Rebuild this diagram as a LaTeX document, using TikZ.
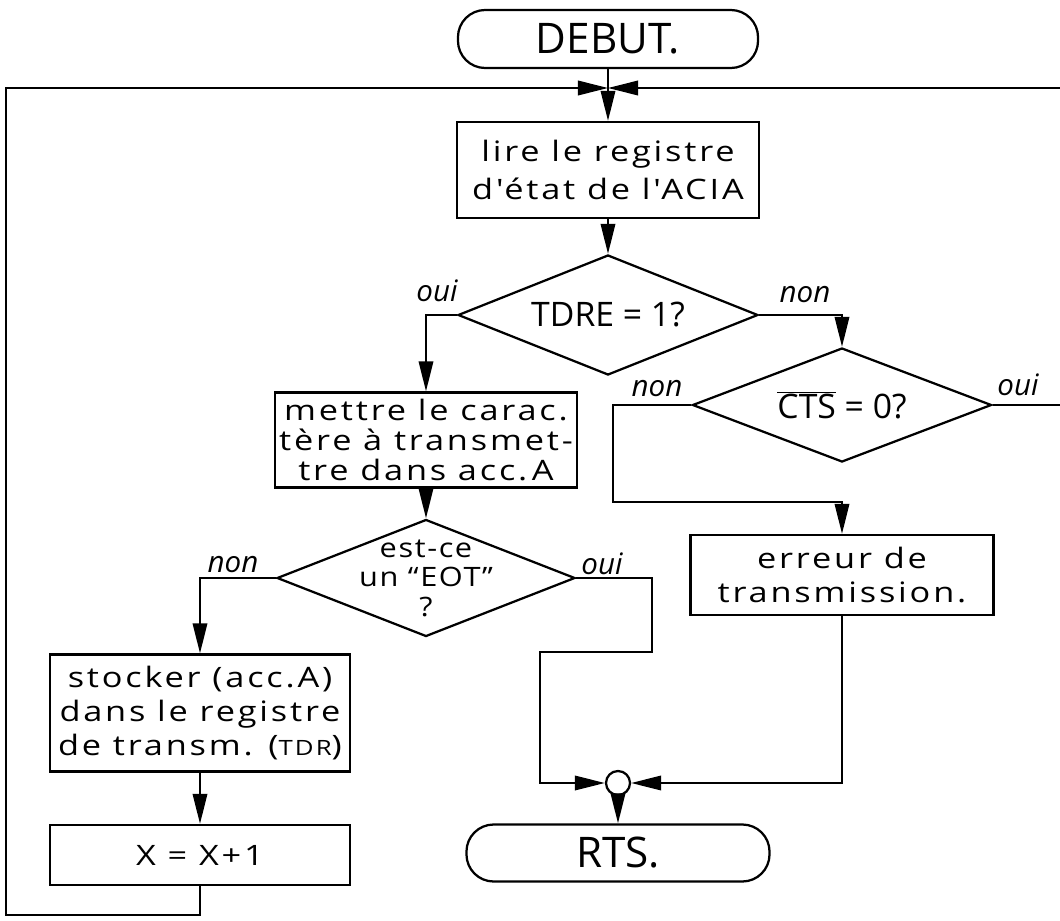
\documentclass[tikz,border=0pt]{standalone}
\usepackage{fontspec}
\setmainfont{Open Sans}
\newfontfamily\boxfont{Open Sans}[FakeStretch=1.22,LetterSpace=10.0]
\newfontfamily\eotfont{Open Sans}[FakeStretch=1.15,LetterSpace=6.0]
\newcommand\handfs[1]{\boxfont\fontsize{20}{#1}\selectfont}
\usetikzlibrary{shapes.geometric,arrows.meta}
\begin{document}
\begin{tikzpicture}[x=0.025cm,y=-0.025cm,
  line width=1.6pt,
  proc/.style={draw, rectangle, inner sep=0pt, align=center},
  term/.style={draw, rectangle, rounded corners=0.68cm, inner sep=0pt, font=\fontsize{30}{36}\selectfont},
  dec/.style={draw, diamond, inner sep=0pt},
  lab/.style={font=\itshape\fontsize{21}{24}\selectfont},
  arr/.style={-{Triangle[length=7.5mm,width=3.6mm]}},
  jn/.style={draw, circle, minimum size=0.6cm, inner sep=0pt}
]
\useasboundingbox (0,0) rectangle (1060,921);

% nodes
\node[term, minimum width=7.5cm, minimum height=1.45cm] (debut) at (608,39) {DEBUT.};
\coordinate (J) at (608,88);
\node[proc, minimum width=7.55cm, minimum height=2.4cm, font={\handfs{27}}] (lire) at (608,170) {lire le registre\\d'état de l'ACIA};
\node[dec, minimum width=7.5cm, minimum height=3cm,
  label={[font=\fontsize{24}{28}\selectfont]center:TDRE = 1?}] (tdre) at (608,315) {};
\node[proc, minimum width=7.55cm, minimum height=2.375cm, font={\handfs{21}}] (mettre) at (426,440) {mettre le carac.\\tère à transmet-\\tre dans acc.\,A};
\node[dec, minimum width=7.475cm, minimum height=2.85cm,
  label={[font=\fontsize{24}{28}\selectfont]center:$\overline{\mbox{CTS}}$ = 0?}] (cts) at (842,405) {};
\node[proc, minimum width=7.575cm, minimum height=2cm, font={\handfs{24}}] (err) at (842,575) {erreur de\\transmission.};
\node[dec, minimum width=7.45cm, minimum height=2.925cm,
  label={[font={\eotfont\fontsize{19}{21}\selectfont}, align=center]center:est-ce\\un “EOT”\\?}] (eot) at (426,578) {};
\node[proc, minimum width=7.5cm, minimum height=2.925cm, font={\handfs{24}}] (sto) at (200,713) {stocker (acc.A)\\dans le registre\\de transm. ({\fontsize{15}{15}\selectfont TDR})};
\node[proc, minimum width=7.5cm, minimum height=1.5cm, font={\handfs{24}}] (xb) at (200,855) {X = X+1};
\node[jn] (jc) at (618,783) {};
\node[term, minimum width=7.575cm, minimum height=1.425cm] (rts) at (618,853) {RTS.};

% free ends / bends
\coordinate (L1) at (200,915);
\coordinate (L2) at (6,915);
\coordinate (L3) at (6,88);
\coordinate (R1) at (1060,88);
\coordinate (R2) at (1060,405);
\coordinate (N1) at (613,405);
\coordinate (N2) at (613,502);
\coordinate (E1) at (652,578);
\coordinate (E2) at (652,652);
\coordinate (E3) at (540,652);

% connectors
\draw (debut.south) -- (J);
\draw[arr] (J) -- (lire.north);
\draw[arr] (lire.south) -- (tdre.north);
\draw[arr] (tdre.west) -| (mettre.north);
\draw[arr] (tdre.east) -| (cts.north);
\draw[arr] (mettre.south) -- (eot.north);
\draw[arr] (eot.west) -| (sto.north);
\draw[arr] (sto.south) -- (xb.north);
\draw[arr] (xb.south) -- (L1) -- (L2) -- (L3) -- (J);
\draw[arr] (R1) -- (J);
\draw (cts.east) -- (R2);
\draw[arr] (cts.west) -- (N1) -- (N2) -| (err.north);
\draw[arr] (eot.east) -- (E1) -- (E2) -- (E3) |- (jc.west);
\draw[arr] (err.south) |- (jc.east);
\draw[arr] (jc.south) -- (rts.north);

% labels
\node[lab] (l1) at (437,291) {oui};
\node[lab] (l2) at (805,295) {non};
\node[lab] (l3) at (657,389) {non};
\node[lab] (l4) at (1018,385) {oui};
\node[lab] (l5) at (233,565) {non};
\node[lab] (l6) at (602,564) {oui};
\end{tikzpicture}
\end{document}
